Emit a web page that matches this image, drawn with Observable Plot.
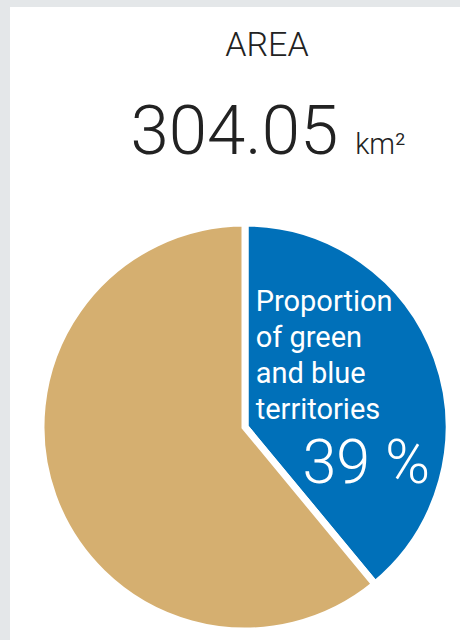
<!DOCTYPE html>
<html>
<head>
<meta charset="utf-8">
<script src="https://cdn.jsdelivr.net/npm/d3@7"></script>
<script src="https://cdn.jsdelivr.net/npm/@observablehq/plot@0.6"></script>
<style>
  html, body { margin: 0; padding: 0; }
  body { width: 460px; height: 640px; background: #e4e7e9; position: relative; overflow: hidden; font-family: Roboto, "Noto Sans", sans-serif; }
  #card { position: absolute; left: 10px; top: 7px; width: 450px; height: 633px; background: #fff; }
  #title { position: absolute; left: 167px; width: 200px; top: 24px; text-align: center; font-size: 34px; font-weight: 300; color: #222; line-height: 40px; }
  #value { position: absolute; left: 68px; width: 400px; top: 91px; text-align: center; font-size: 69px; font-weight: 300; color: #222; line-height: 80px; white-space: nowrap; }
  #value .unit { font-size: 29px; }
  #chart { position: absolute; left: 0; top: 200px; }
</style>
</head>
<body>
<div id="card"></div>
<div id="title"></div>
<div id="value"></div>
<div id="chart"></div>
<script>
// ---- data ----
const titleText = "AREA";
const areaValue = "304.05";
const areaUnit = "km²";
const categories = ["Green and blue territories", "Other territories"];
const shares = [39, 61];
const sliceColors = ["#0070b9", "#d5af70"];
const labelLines = "Proportion\nof green\nand blue\nterritories";
const percentLabel = "39 %";

document.getElementById("title").textContent = titleText;
const v = document.getElementById("value");
v.textContent = areaValue + " ";
const u = document.createElement("span");
u.className = "unit";
u.textContent = areaUnit;
v.appendChild(u);

const slices = categories.map((c, i) => ({category: c, share: shares[i]}));

// pie geometry in plot pixels
const cx = 245, cy = 227, R = 204;

function pieMark(index, scales, values, dimensions) {
  const x0 = scales.x(0), y0 = scales.y(0), rad = scales.x(1) - x0;
  const arcs = d3.pie().sort(null).value(d => d.share)(slices);
  const arc = d3.arc().innerRadius(0).outerRadius(rad);
  const g = d3.create("svg:g").attr("transform", `translate(${x0},${y0})`);
  g.selectAll("path").data(arcs).join("path")
    .attr("d", arc)
    .attr("fill", d => scales.color ? scales.color(d.data.category) : sliceColors[categories.indexOf(d.data.category)])
    .attr("stroke", "white")
    .attr("stroke-width", 7)
    .attr("stroke-linejoin", "miter");
  return g.node();
}

const labels = [{x: 0.05, y: 0.695, text: labelLines}];
const pct = [{x: 0.905, y: -0.27, text: percentLabel}];

const chart = Plot.plot({
  width: 460,
  height: 440,
  margin: 0,
  x: {domain: [-1, 1], range: [cx - R, cx + R], axis: null},
  y: {domain: [-1, 1], range: [cy + R, cy - R], axis: null},
  color: {domain: categories, range: sliceColors},
  style: {background: "transparent", fontFamily: "Roboto, 'Noto Sans', sans-serif"},
  marks: [
    pieMark,
    Plot.text(labels, {x: "x", y: "y", text: "text", textAnchor: "start", lineAnchor: "top", fontSize: 29, lineHeight: 1.24, fill: "white", fontWeight: 400}),
    Plot.text(pct, {x: "x", y: "y", text: "text", textAnchor: "end", lineAnchor: "bottom", fontSize: 61, fill: "white", fontWeight: 300})
  ]
});
document.getElementById("chart").appendChild(chart);
</script>
</body>
</html>
